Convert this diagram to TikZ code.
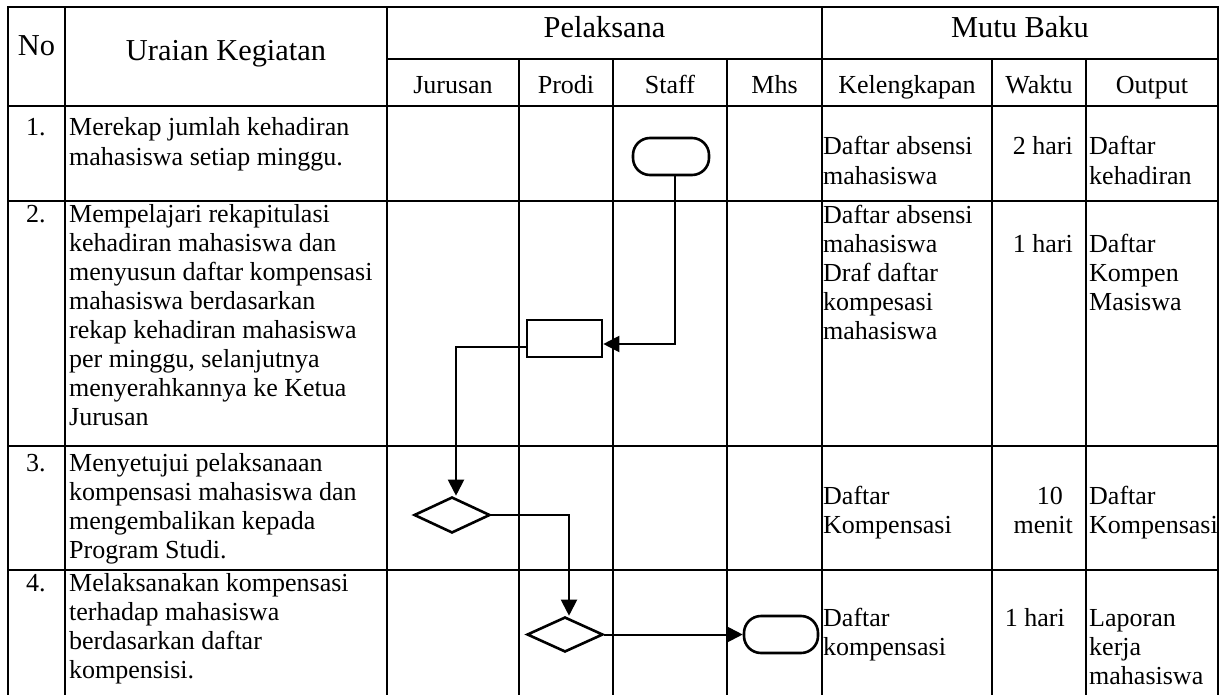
\documentclass[tikz,border=0pt]{standalone}
\usepackage{fontspec}
\setmainfont{Liberation Serif}
\usetikzlibrary{shapes.geometric,arrows.meta}
\newcommand{\ml}[1]{\vtop{\baselineskip=29pt\lineskip=0pt\lineskiplimit=-100pt\halign{##\hfil\cr#1\crcr}}}
\begin{document}
\begin{tikzpicture}[x=1pt,y=-1pt,
  body/.style={font=\fontsize{26}{29}\selectfont, inner sep=0pt, anchor=base west},
  bodyr/.style={font=\fontsize{26}{29}\selectfont, inner sep=0pt, anchor=base east},
  hdr/.style={font=\fontsize{30.4}{34}\selectfont, inner sep=0pt, anchor=base},
  sub/.style={font=\fontsize{26}{29}\selectfont, inner sep=0pt, anchor=base},
  grid/.style={line width=1.3pt},
  shp/.style={draw, line width=2.6pt, inner sep=0pt},
  conn/.style={line width=2pt},
  arr/.style={conn, -{Triangle[length=16pt,width=16pt]}}]
\useasboundingbox (0,0) rectangle (1230,695);
% table grid
\draw[grid] (8,695) -- (8,7) -- (1218,7) -- (1218,695);
\draw[grid] (65,7) -- (65,695);
\draw[grid] (387,7) -- (387,695);
\draw[grid] (822,7) -- (822,695);
\draw[grid] (387,59) -- (1218,59);
\foreach \x in {519,613,727,992,1086} \draw[grid] (\x,59) -- (\x,695);
\foreach \y in {106,201,446,570} \draw[grid] (8,\y) -- (1218,\y);
% headers
\node[hdr] (hNo) at (36.5,56) {No};
\node[hdr] (hUr) at (226,61) {Uraian Kegiatan};
\node[hdr] (hPel) at (604.5,38) {Pelaksana};
\node[hdr] (hMutu) at (1020,38) {Mutu Baku};
\node[sub] (hJur) at (453,94) {Jurusan};
\node[sub] (hPro) at (566,94) {Prodi};
\node[sub] (hSta) at (670,94) {Staff};
\node[sub] (hMhs) at (774.5,94) {Mhs};
\node[sub] (hKel) at (907,94) {Kelengkapan};
\node[sub] (hWak) at (1039,94) {Waktu};
\node[sub] (hOut) at (1152,94) {Output};
% row 1
\node[body] (n1) at (26,136) {1.};
\node[body] (u1) at (69,136) {\ml{Merekap jumlah kehadiran\cr mahasiswa setiap minggu.}};
\node[body] (k1) at (823,155) {\ml{Daftar absensi\cr mahasiswa}};
\node[bodyr] (w1) at (1073,155) {2 hari};
\node[body] (o1) at (1089,155) {\ml{Daftar\cr kehadiran}};
% row 2
\node[body] (n2) at (26,222) {2.};
\node[body] (u2) at (69,222) {\ml{Mempelajari rekapitulasi\cr kehadiran mahasiswa dan\cr menyusun daftar kompensasi\cr mahasiswa berdasarkan\cr rekap kehadiran mahasiswa\cr per minggu, selanjutnya\cr menyerahkannya ke Ketua\cr Jurusan}};
\node[body] (k2) at (823,223) {\ml{Daftar absensi\cr mahasiswa\cr Draf daftar\cr kompesasi\cr mahasiswa}};
\node[bodyr] (w2) at (1073,252) {1 hari};
\node[body] (o2) at (1089,252) {\ml{Daftar\cr Kompen\cr Masiswa}};
% row 3
\node[body] (n3) at (26,471) {3.};
\node[body] (u3) at (69,471) {\ml{Menyetujui pelaksanaan\cr kompensasi mahasiswa dan\cr mengembalikan kepada\cr Program Studi.}};
\node[body] (k3) at (823,504) {\ml{Daftar\cr Kompensasi}};
\node[bodyr] (w3a) at (1063,504) {10};
\node[bodyr] (w3b) at (1073,533) {menit};
\node[body] (o3) at (1089,504) {\ml{Daftar\cr Kompensasi}};
% row 4
\node[body] (n4) at (26,591) {4.};
\node[body] (u4) at (69,591) {\ml{Melaksanakan kompensasi\cr terhadap mahasiswa\cr berdasarkan daftar\cr kompensisi.}};
\node[body] (k4) at (823,626) {\ml{Daftar\cr kompensasi}};
\node[bodyr] (w4) at (1065,626) {1 hari};
\node[body] (o4) at (1089,626) {\ml{Laporan\cr kerja\cr mahasiswa}};
% flow shapes
\node[shp, rounded corners=17pt, minimum width=76pt, minimum height=37pt] (t1) at (671,156.5) {};
\node[shp, minimum width=75pt, minimum height=37pt] (r2) at (564.5,338.5) {};
\node[shp, diamond, minimum width=76pt, minimum height=36pt] (d3) at (452,515) {};
\node[shp, diamond, minimum width=76pt, minimum height=35pt] (d4) at (565,634.5) {};
\node[shp, rounded corners=17pt, minimum width=74pt, minimum height=37pt] (t5) at (781,634.5) {};
% connectors
\draw[arr] ([xshift=3.5pt]t1.south) |- ([yshift=-5.5pt]r2.east);
\draw[arr] ([yshift=-8pt]r2.west) -| ([xshift=4pt]d3.north);
\draw[arr] (d3.east) -| ([xshift=4pt]d4.north);
\draw[arr] (d4.east) -- (t5.west);
\end{tikzpicture}
\end{document}
